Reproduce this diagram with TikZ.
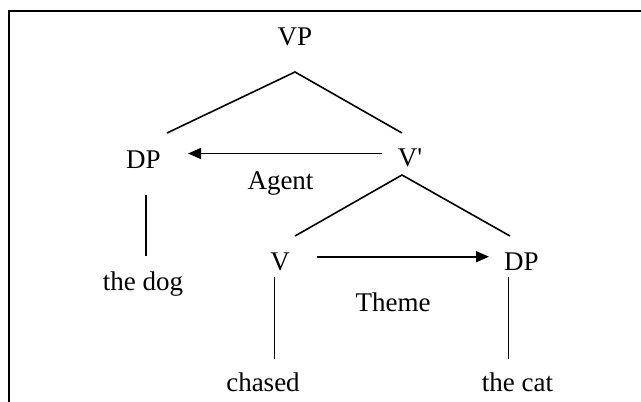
\documentclass[tikz,border=0pt]{standalone}
\usepackage{fontspec}
\setmainfont{Liberation Serif}
\usetikzlibrary{arrows.meta}
\begin{document}
\begin{tikzpicture}[x=1pt,y=-1pt,
  lbl/.style={inner sep=0pt,anchor=base,font=\fontsize{27}{32}\selectfont},
  branch/.style={line width=1.6pt},
  role/.style={line width=1.6pt,-{Triangle[length=13pt,width=11pt]}},
  frame/.style={line width=2.2pt}]
\useasboundingbox (0,0) rectangle (641,402);
% frame (top and left edges only)
\coordinate (f1) at (9,402);
\coordinate (f2) at (9,11);
\coordinate (f3) at (641,11);
\draw[frame] (f1) -- (f2) -- (f3);
% labels
\node[lbl] (vp)   at (295,45)    {VP};
\node[lbl] (dp1)  at (143.5,168) {DP};
\node[lbl] (vbar) at (410,166)   {V\textquotesingle};
\node[lbl] (agent) at (280.5,189) {Agent};
\node[lbl] (dog)  at (143,290)   {the dog};
\node[lbl] (v)    at (280,270)   {V};
\node[lbl] (dp2)  at (521.5,270) {DP};
\node[lbl] (theme) at (393,311.5) {Theme};
\node[lbl] (chased) at (263,391.5) {chased};
\node[lbl] (cat)  at (517.5,391.5) {the cat};
% branch points
\coordinate (vpB)   at (295,72);
\coordinate (dp1T)  at (167,133);
\coordinate (vbarT) at (402,133);
\coordinate (vbarB) at (402,175);
\coordinate (vT)    at (295,236);
\coordinate (dp2T)  at (510,236);
\coordinate (dp1B)  at (145.7,195);
\coordinate (dogT)  at (145.7,256);
\coordinate (vB)    at (274.3,277);
\coordinate (chT)   at (274.3,359);
\coordinate (dp2B)  at (508.3,277);
\coordinate (catT)  at (508.3,359);
\coordinate (agS)   at (382,153.5);
\coordinate (agE)   at (188,153.5);
\coordinate (thS)   at (317,256.7);
\coordinate (thE)   at (489,256.7);
% tree branches
\draw[branch] (dp1T) -- (vpB) -- (vbarT);
\draw[branch] (vT) -- (vbarB) -- (dp2T);
\draw[branch] (dp1B) -- (dogT);
\draw[branch] (vB) -- (chT);
\draw[branch] (dp2B) -- (catT);
% theta-role arrows
\draw[role] (agS) -- (agE);
\draw[role] (thS) -- (thE);
\end{tikzpicture}
\end{document}
